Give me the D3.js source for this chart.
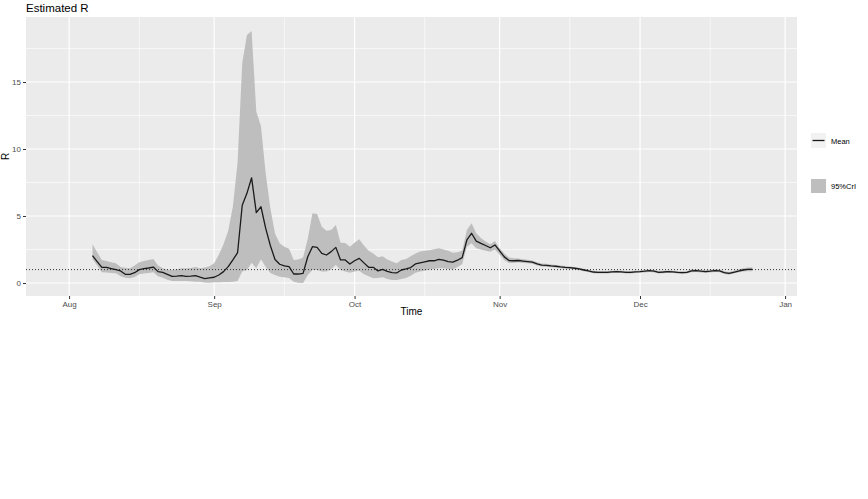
<!DOCTYPE html>
<html>
<head>
<meta charset="utf-8">
<script src="https://cdn.jsdelivr.net/npm/d3@7"></script>
<style>
  html, body { margin: 0; padding: 0; background: #ffffff; }
  svg { display: block; font-family: "Liberation Sans", Arial, sans-serif; }
</style>
</head>
<body>
<svg id="chart" width="868" height="499"></svg>
<script>
// ---------------- DATA ----------------
const startDate = "2020-08-06";   // first estimate; one value per day follows
const meanR = [
  2.04,1.6,1.17,1.17,1.08,0.99,0.9,0.65,0.65,0.77,
  1.0,1.07,1.12,1.19,0.85,0.8,0.65,0.5,0.52,0.55,
  0.5,0.52,0.55,0.43,0.32,0.38,0.43,0.6,0.85,1.22,
  1.72,2.26,5.8,6.69,7.85,5.25,5.69,4.1,2.8,1.75,
  1.4,1.28,1.22,0.67,0.67,0.72,1.96,2.71,2.66,2.21,
  2.09,2.34,2.66,1.72,1.72,1.42,1.66,1.84,1.5,1.17,
  1.17,0.9,1.02,0.87,0.78,0.75,0.97,1.05,1.15,1.42,
  1.5,1.58,1.66,1.66,1.77,1.7,1.6,1.56,1.7,1.89,
  3.21,3.71,3.13,2.96,2.8,2.63,2.84,2.39,1.95,1.68,
  1.66,1.68,1.64,1.6,1.55,1.42,1.34,1.32,1.28,1.25,
  1.2,1.16,1.14,1.1,1.05,0.97,0.9,0.82,0.8,0.8,
  0.8,0.83,0.85,0.83,0.8,0.8,0.83,0.85,0.88,0.92,
  0.88,0.8,0.82,0.85,0.83,0.8,0.78,0.8,0.9,0.92,
  0.88,0.85,0.88,0.92,0.9,0.78,0.72,0.8,0.88,0.97,1.02,1.02
];
const upperR = [
  2.89,2.3,1.72,1.64,1.55,1.47,1.2,1.14,1.1,1.3,
  1.55,1.65,1.72,1.79,1.3,1.1,0.98,0.97,1.02,1.1,
  1.1,1.12,1.2,1.1,1.15,1.25,1.47,2.1,2.9,3.9,
  5.7,9.0,16.4,18.5,18.8,12.8,11.7,8.2,5.6,3.7,
  2.96,2.7,2.55,1.72,1.75,1.9,3.3,5.2,5.15,4.2,
  3.9,3.95,4.33,3.0,2.98,2.71,3.0,3.26,2.8,2.4,
  2.2,1.92,2.0,1.75,1.6,1.47,1.72,1.8,2.0,2.21,
  2.35,2.41,2.45,2.51,2.59,2.5,2.4,2.25,2.3,2.4,
  3.96,4.46,3.71,3.35,3.1,2.9,3.13,2.6,2.2,1.9,
  1.84,1.82,1.78,1.73,1.67,1.54,1.45,1.43,1.38,1.35,
  1.3,1.26,1.23,1.19,1.14,1.06,0.99,0.91,0.89,0.89,
  0.89,0.92,0.94,0.92,0.89,0.89,0.92,0.94,0.97,1.01,
  0.97,0.89,0.91,0.94,0.92,0.9,0.88,0.9,1.0,1.02,
  0.98,0.95,0.98,1.02,1.0,0.88,0.83,0.92,1.0,1.1,1.16,1.18
];
const lowerR = [
  1.79,1.3,0.8,0.78,0.75,0.72,0.5,0.4,0.35,0.45,
  0.65,0.7,0.75,0.8,0.5,0.4,0.25,0.15,0.15,0.15,
  0.15,0.13,0.1,0.1,0.03,0.02,0.05,0.05,0.07,0.08,
  0.1,0.15,0.85,0.97,1.52,1.1,1.77,1.22,0.75,0.6,
  0.47,0.42,0.38,0.1,0.02,0.0,0.6,0.97,0.97,0.85,
  0.85,1.02,1.34,0.97,0.85,0.77,0.85,0.92,0.65,0.5,
  0.35,0.38,0.42,0.3,0.22,0.22,0.3,0.37,0.55,0.77,
  0.85,0.92,1.0,1.05,1.1,1.1,1.05,1.0,1.2,1.4,
  2.71,2.96,2.6,2.5,2.4,2.33,2.5,2.1,1.7,1.5,
  1.5,1.54,1.5,1.47,1.43,1.3,1.23,1.21,1.18,1.15,
  1.1,1.06,1.05,1.01,0.96,0.88,0.81,0.73,0.71,0.71,
  0.71,0.74,0.76,0.74,0.71,0.71,0.74,0.76,0.79,0.83,
  0.79,0.71,0.73,0.76,0.74,0.7,0.68,0.7,0.8,0.82,
  0.78,0.75,0.78,0.82,0.8,0.68,0.62,0.7,0.78,0.85,0.88,0.88
];
const xTickDates = ["2020-08-01","2020-09-01","2020-10-01","2020-11-01","2020-12-01","2021-01-01"];
const xTickLabels = ["Aug","Sep","Oct","Nov","Dec","Jan"];
const xMinorDates = ["2020-08-16","2020-09-16","2020-10-16","2020-11-16","2020-12-16"];
const yTicks = [0,5,10,15];
const yMinor = [2.5,7.5,12.5,17.5];
const thresholdR = 1;
const legendLabels = ["Mean","95%CrI"];
const titleText = "Estimated R";
const xTitle = "Time";
const yTitle = "R";

// ---------------- LAYOUT ----------------
const parse = d3.timeParse("%Y-%m-%d");
const t0 = parse(startDate);
const rows = meanR.map((m, i) => ({
  date: d3.timeDay.offset(t0, i), mean: m, lo: lowerR[i], hi: upperR[i]
}));

const panel = {left: 26, right: 797, top: 17, bottom: 296};
const svg = d3.select("#chart");

const x = d3.scaleTime()
  .domain([new Date(2020,6,22,19), new Date(2021,0,3,13)])
  .range([panel.left, panel.right]);
const y = d3.scaleLinear()
  .domain([-0.97, 19.85])
  .range([panel.bottom, panel.top]);

// panel background
svg.append("rect")
  .attr("x", panel.left).attr("y", panel.top)
  .attr("width", panel.right - panel.left).attr("height", panel.bottom - panel.top)
  .attr("fill", "#ebebeb");

const grid = svg.append("g");
// minor grid
grid.selectAll(".ym").data(yMinor).join("line")
  .attr("x1", panel.left).attr("x2", panel.right)
  .attr("y1", d => y(d)).attr("y2", d => y(d))
  .attr("stroke", "#ffffff").attr("stroke-width", 0.6);
grid.selectAll(".xm").data(xMinorDates.map(parse)).join("line")
  .attr("y1", panel.top).attr("y2", panel.bottom)
  .attr("x1", d => x(d)).attr("x2", d => x(d))
  .attr("stroke", "#ffffff").attr("stroke-width", 0.6);
// major grid
grid.selectAll(".yM").data(yTicks).join("line")
  .attr("x1", panel.left).attr("x2", panel.right)
  .attr("y1", d => y(d)).attr("y2", d => y(d))
  .attr("stroke", "#ffffff").attr("stroke-width", 1.2);
grid.selectAll(".xM").data(xTickDates.map(parse)).join("line")
  .attr("y1", panel.top).attr("y2", panel.bottom)
  .attr("x1", d => x(d)).attr("x2", d => x(d))
  .attr("stroke", "#ffffff").attr("stroke-width", 1.2);

// ribbon
const area = d3.area()
  .x(d => x(d.date)).y0(d => y(d.lo)).y1(d => y(d.hi));
svg.append("path").datum(rows)
  .attr("d", area).attr("fill", "#bebebe");

// threshold dotted line
svg.append("line")
  .attr("x1", panel.left).attr("x2", panel.right)
  .attr("y1", y(thresholdR)).attr("y2", y(thresholdR))
  .attr("stroke", "#333333").attr("stroke-width", 1)
  .attr("stroke-dasharray", "1,2");

// mean line
const line = d3.line().x(d => x(d.date)).y(d => y(d.mean));
svg.append("path").datum(rows)
  .attr("d", line).attr("fill", "none")
  .attr("stroke", "#1a1a1a").attr("stroke-width", 1.3)
  .attr("stroke-linejoin", "round");

// axes
const xAxis = d3.axisBottom(x)
  .tickValues(xTickDates.map(parse))
  .tickFormat((d, i) => xTickLabels[i])
  .tickSize(3).tickPadding(2);
const gx = svg.append("g").attr("transform", `translate(0,${panel.bottom})`).call(xAxis);
gx.select(".domain").remove();
gx.selectAll("line").attr("stroke", "#333333");
gx.selectAll("text").attr("fill", "#4d4d4d").attr("font-size", 8)
  .attr("font-family", "Liberation Sans, Arial, sans-serif");

const yAxis = d3.axisLeft(y).tickValues(yTicks).tickSize(3).tickPadding(2);
const gy = svg.append("g").attr("transform", `translate(${panel.left},0)`).call(yAxis);
gy.select(".domain").remove();
gy.selectAll("line").attr("stroke", "#333333");
gy.selectAll("text").attr("fill", "#4d4d4d").attr("font-size", 8)
  .attr("font-family", "Liberation Sans, Arial, sans-serif");

// titles
svg.append("text").attr("x", panel.left).attr("y", 12)
  .attr("font-size", 11.5).attr("fill", "#000").text(titleText);
svg.append("text").attr("x", (panel.left + panel.right) / 2).attr("y", 315)
  .attr("text-anchor", "middle").attr("font-size", 10).attr("fill", "#000").text(xTitle);
svg.append("text")
  .attr("transform", `translate(9,${(panel.top + panel.bottom) / 2}) rotate(-90)`)
  .attr("text-anchor", "middle").attr("font-size", 10).attr("fill", "#000").text(yTitle);

// legend
const lg = svg.append("g");
lg.append("rect").attr("x", 811).attr("y", 133).attr("width", 15).attr("height", 15)
  .attr("fill", "#f2f2f2");
lg.append("line").attr("x1", 812.5).attr("x2", 824.5).attr("y1", 140.5).attr("y2", 140.5)
  .attr("stroke", "#1a1a1a").attr("stroke-width", 1.3);
lg.append("rect").attr("x", 811).attr("y", 179).attr("width", 15).attr("height", 14)
  .attr("fill", "#bebebe");
lg.append("text").attr("x", 831).attr("y", 143.5).attr("font-size", 7.5)
  .attr("fill", "#000").text(legendLabels[0]);
lg.append("text").attr("x", 831).attr("y", 189).attr("font-size", 7.5)
  .attr("fill", "#000").text(legendLabels[1]);
</script>
</body>
</html>
